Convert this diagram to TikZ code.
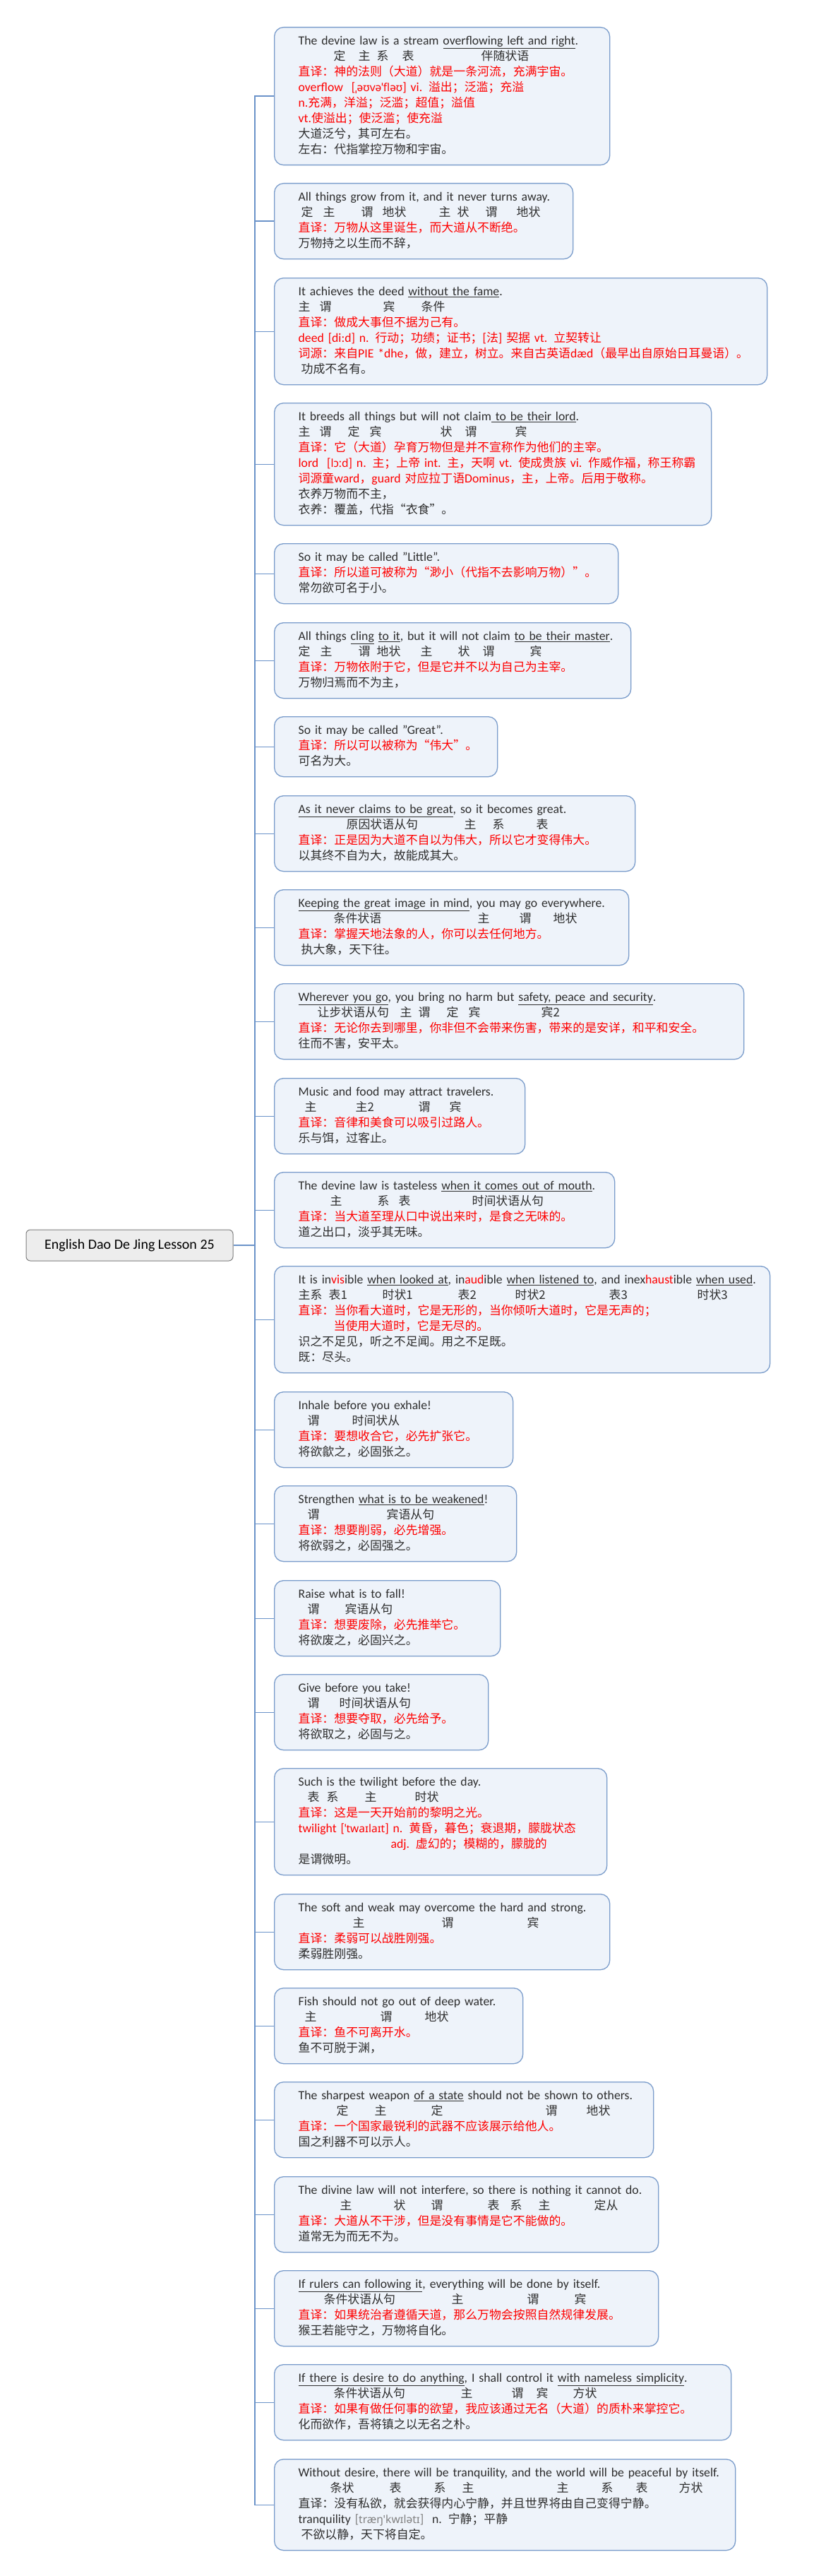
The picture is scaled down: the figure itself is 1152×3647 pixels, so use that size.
\documentclass[tikz,border=0pt]{standalone}
\usepackage{fontspec}
\setmainfont{Carlito}
\newfontfamily\cjkf{Noto Sans CJK SC}
\newfontfamily\ipaf{Noto Sans}
\definecolor{boxfill}{HTML}{EEF3FA}
\definecolor{boxline}{HTML}{7A9CCB}
\definecolor{txt}{HTML}{2E2E2E}
\definecolor{connc}{HTML}{6B93C9}
\definecolor{rootfill}{HTML}{EDEDED}
\definecolor{rootline}{HTML}{7F7F7F}
\newcommand\fs{\fontsize{17.7}{22}\selectfont}
\newcommand\zh[1]{{\cjkf\fontsize{16.9}{22}\selectfont #1}}
\newcommand\ipat[1]{{\ipaf\fontsize{15.5}{22}\selectfont #1}}
\newcommand\rtxt[1]{\textcolor{red}{#1}}
\newcommand\uln[1]{\underline{#1}}
\newcommand\glab[2]{\rlap{\hspace*{#1pt}\zh{#2}}}
\newcommand\rows[1]{\noindent\begin{tabular}{@{}l@{}}#1\end{tabular}}
\tikzset{
  box/.style={draw=boxline, fill=boxfill, line width=1.3pt, rounded corners=13pt,
    anchor=north west, inner xsep=34pt, inner ysep=9.5pt, align=left, font=\fs, text=txt},
  rootbox/.style={draw=rootline, fill=rootfill, line width=1pt, rounded corners=6pt,
    minimum width=293pt, minimum height=44pt, font=\fontsize{20}{24}\selectfont, text=black},
  conn/.style={draw=connc, line width=1.3pt}
}
\begin{document}
\begin{tikzpicture}[x=1pt,y=1pt]
\path[fill=white] (0,0) rectangle (1152,-3647);
\useasboundingbox (0,0) rectangle (1152,-3647);

\node[rootbox] (root) at (183.5,-1763) {English Dao De Jing Lesson 25};
\coordinate (trunk) at (361,-1763);

\node[box, text width=407pt] (b1) at (388,-38) {\rows{%
The devine law is a stream \uln{overflowing left and right}.\\
\glab{50}{定}\glab{85}{主}\glab{111}{系}\glab{147}{表}\glab{259}{伴随状语}\\
\rtxt{\zh{直译：神的法则（大道）就是一条河流，充满宇宙。}}\\
\rtxt{overflow\ \ [\ipat{ˌəʊvəˈfləʊ}] vi. \zh{溢出；泛滥；充溢}}\\
\rtxt{n.\zh{充满，洋溢；泛滥；超值；溢值}}\\
\rtxt{vt.\zh{使溢出；使泛滥；使充溢}}\\
\zh{大道泛兮，其可左右。}\\
\zh{左右：代指掌控万物和宇宙。}}};

\node[box, text width=355pt] (b2) at (388,-259) {\rows{%
All things grow from it, and it never turns away.\\
\glab{4}{定}\glab{35}{主}\glab{89}{谓}\glab{119}{地状}\glab{199}{主}\glab{225}{状}\glab{265}{谓}\glab{309}{地状}\\
\rtxt{\zh{直译：万物从这里诞生，而大道从不断绝。}}\\
\zh{万物持之以生而不辞，}}};

\node[box, text width=630pt] (b3) at (388,-393) {\rows{%
It achieves the deed \uln{without the fame}.\\
\glab{0}{主}\glab{30}{谓}\glab{120}{宾}\glab{174}{条件}\\
\rtxt{\zh{直译：做成大事但不据为己有。}}\\
\rtxt{deed [di:d] n. \zh{行动；功绩；证书；}[\zh{法}] \zh{契据} vt. \zh{立契转让}}\\
\rtxt{\zh{词源：来自}PIE *dhe\zh{，做，建立，树立。来自古英语}dæd\zh{（最早出自原始日耳曼语）。}}\\
\hspace*{4pt}\zh{功成不名有。}}};

\node[box, text width=551pt] (b4) at (388,-570) {\rows{%
It breeds all things but will not claim\uln{ to be their lord}.\\
\glab{0}{主}\glab{30}{谓}\glab{70}{定}\glab{101}{宾}\glab{201}{状}\glab{236}{谓}\glab{307}{宾}\\
\rtxt{\zh{直译：它（大道）孕育万物但是并不宣称作为他们的主宰。}}\\
\rtxt{lord\ \ [\ipat{lɔ:d}] n. \zh{主；上帝} int. \zh{主，天啊} vt. \zh{使成贵族} vi. \zh{作威作福，称王称霸}}\\
\rtxt{\zh{词源童}ward\zh{，}guard \zh{对应拉丁语}Dominus\zh{，主，上帝。后用于敬称。}}\\
\zh{衣养万物而不主，}\\
\zh{衣养：覆盖，代指“衣食”。}}};

\node[box, text width=419pt] (b5) at (388,-769) {\rows{%
So it may be called "Little".\\
\rtxt{\zh{直译：所以道可被称为“渺小（代指不去影响万物）”。}}\\
\zh{常勿欲可名于小。}}};

\node[box, text width=437pt] (b6) at (388,-881) {\rows{%
All things \uln{cling} \uln{to it}, but it will not claim \uln{to be their master}.\\
\glab{0}{定}\glab{31}{主}\glab{85}{谓}\glab{111}{地状}\glab{173}{主}\glab{226}{状}\glab{261}{谓}\glab{328}{宾}\\
\rtxt{\zh{直译：万物依附于它，但是它并不以为自己为主宰。}}\\
\zh{万物归焉而不为主，}}};

\node[box, text width=248pt] (b7) at (388,-1014) {\rows{%
So it may be called "Great".\\
\rtxt{\zh{直译：所以可以被称为“伟大”。}}\\
\zh{可名为大。}}};

\node[box, text width=443pt] (b8) at (388,-1126) {\rows{%
\uln{As it never claims to be great}, so it becomes great.\\
\glab{68}{原因状语从句}\glab{235}{主}\glab{275}{系}\glab{337}{表}\\
\rtxt{\zh{直译：正是因为大道不自以为伟大，所以它才变得伟大。}}\\
\zh{以其终不自为大，故能成其大。}}};

\node[box, text width=434pt] (b9) at (388,-1259) {\rows{%
\uln{Keeping the great image in mind}, you may go everywhere.\\
\glab{50}{条件状语}\glab{254}{主}\glab{313}{谓}\glab{361}{地状}\\
\rtxt{\zh{直译：掌握天地法象的人，你可以去任何地方。}}\\
\hspace*{4pt}\zh{执大象，天下往。}}};

\node[box, text width=597pt] (b10) at (388,-1392) {\rows{%
\uln{Wherever you go}, you bring no harm but \uln{safety, peace and security}.\\
\glab{27}{让步状语从句}\glab{144}{主}\glab{170}{谓}\glab{210}{定}\glab{241}{宾}\glab{344}{宾2}\\
\rtxt{\zh{直译：无论你去到哪里，你非但不会带来伤害，带来的是安详，和平和安全。}}\\
\zh{往而不害，安平太。}}};

\node[box, text width=287pt] (b11) at (388,-1526) {\rows{%
Music and food may attract travelers.\\
\glab{9}{主}\glab{81}{主2}\glab{170}{谓}\glab{214}{宾}\\
\rtxt{\zh{直译：音律和美食可以吸引过路人。}}\\
\zh{乐与饵，过客止。}}};

\node[box, text width=414pt] (b12) at (388,-1659) {\rows{%
The devine law is tasteless \uln{when it comes out of mouth}.\\
\glab{45}{主}\glab{112}{系}\glab{142}{表}\glab{246}{时间状语从句}\\
\rtxt{\zh{直译：当大道至理从口中说出来时，是食之无味的。}}\\
\zh{道之出口，淡乎其无味。}}};

\node[box, text width=634pt] (b13) at (388,-1792) {\rows{%
It is in\rtxt{vis}ible \uln{when looked at}, in\rtxt{aud}ible \uln{when listened to}, and inex\rtxt{haust}ible \uln{when used}.\\
\glab{0}{主系}\glab{43}{表1}\glab{119}{时状1}\glab{226}{表2}\glab{307}{时状2}\glab{440}{表3}\glab{565}{时状3}\\
\rtxt{\zh{直译：当你看大道时，它是无形的，当你倾听大道时，它是无声的；}}\\
\hspace*{50pt}\rtxt{\zh{当使用大道时，它是无尽的。}}\\
\zh{识之不足见，听之不足闻。用之不足既。}\\
\zh{既：尽头。}}};

\node[box, text width=270pt] (b14) at (388,-1970) {\rows{%
Inhale before you exhale!\\
\glab{13}{谓}\glab{76}{时间状从}\\
\rtxt{\zh{直译：要想收合它，必先扩张它。}}\\
\zh{将欲歙之，必固张之。}}};

\node[box, text width=275pt] (b15) at (388,-2103) {\rows{%
Strengthen \uln{what is to be weakened}!\\
\glab{13}{谓}\glab{125}{宾语从句}\\
\rtxt{\zh{直译：想要削弱，必先增强。}}\\
\zh{将欲弱之，必固强之。}}};

\node[box, text width=252pt] (b16) at (388,-2237) {\rows{%
Raise what is to fall!\\
\glab{13}{谓}\glab{66}{宾语从句}\\
\rtxt{\zh{直译：想要废除，必先推举它。}}\\
\zh{将欲废之，必固兴之。}}};

\node[box, text width=235pt] (b17) at (388,-2370) {\rows{%
Give before you take!\\
\glab{13}{谓}\glab{58}{时间状语从句}\\
\rtxt{\zh{直译：想要夺取，必先给予。}}\\
\zh{将欲取之，必固与之。}}};

\node[box, text width=403pt] (b18) at (388,-2503) {\rows{%
Such is the twilight before the day.\\
\glab{13}{表}\glab{40}{系}\glab{94}{主}\glab{165}{时状}\\
\rtxt{\zh{直译：这是一天开始前的黎明之光。}}\\
\rtxt{twilight [\ipat{ˈtwaɪlaɪt}] n. \zh{黄昏，暮色；衰退期，朦胧状态}}\\
\hspace*{131pt}\rtxt{adj. \zh{虚幻的；模糊的，朦胧的}}\\
\zh{是谓微明。}}};

\node[box, text width=407pt] (b19) at (388,-2681) {\rows{%
The soft and weak may overcome the hard and strong.\\
\glab{77}{主}\glab{203}{谓}\glab{324}{宾}\\
\rtxt{\zh{直译：柔弱可以战胜刚强。}}\\
\zh{柔弱胜刚强。}}};

\node[box, text width=284pt] (b20) at (388,-2814) {\rows{%
Fish should not go out of deep water.\\
\glab{9}{主}\glab{116}{谓}\glab{179}{地状}\\
\rtxt{\zh{直译：鱼不可离开水。}}\\
\zh{鱼不可脱于渊，}}};

\node[box, text width=469pt] (b21) at (388,-2947) {\rows{%
The sharpest weapon \uln{of a state} should not be shown to others.\\
\glab{54}{定}\glab{108}{主}\glab{188}{定}\glab{350}{谓}\glab{408}{地状}\\
\rtxt{\zh{直译：一个国家最锐利的武器不应该展示给他人。}}\\
\zh{国之利器不可以示人。}}};

\node[box, text width=476pt] (b22) at (388,-3081) {\rows{%
The divine law will not interfere, so there is nothing it cannot do.\\
\glab{59}{主}\glab{135}{状}\glab{188}{谓}\glab{268}{表}\glab{300}{系}\glab{340}{主}\glab{419}{定从}\\
\rtxt{\zh{直译：大道从不干涉，但是没有事情是它不能做的。}}\\
\zh{道常无为而无不为。}}};

\node[box, text width=476pt] (b23) at (388,-3214) {\rows{%
\uln{If rulers can following it}, everything will be done by itself.\\
\glab{36}{条件状语从句}\glab{217}{主}\glab{324}{谓}\glab{391}{宾}\\
\rtxt{\zh{直译：如果统治者遵循天道，那么万物会按照自然规律发展。}}\\
\zh{猴王若能守之，万物将自化。}}};

\node[box, text width=579pt] (b24) at (388,-3347) {\rows{%
\uln{If there is desire to do anything}, I shall control it \uln{with nameless simplicity}.\\
\glab{50}{条件状语从句}\glab{230}{主}\glab{302}{谓}\glab{337}{宾}\glab{389}{方状}\\
\rtxt{\zh{直译：如果有做任何事的欲望，我应该通过无名（大道）的质朴来掌控它。}}\\
\zh{化而欲作，吾将镇之以无名之朴。}}};

\node[box, text width=585pt] (b25) at (388,-3481) {\rows{%
Without desire, there will be tranquility, and the world will be peaceful by itself.\\
\glab{45}{条状}\glab{129}{表}\glab{192}{系}\glab{232}{主}\glab{366}{主}\glab{429}{系}\glab{478}{表}\glab{539}{方状}\\
\zh{直译：没有私欲，就会获得内心宁静，并且世界将由自己变得宁静。}\\
tranquility \textcolor{gray}{[\ipat{træŋ'kwɪlətɪ}]}\ \ n. \zh{宁静；平静}\\
\hspace*{4pt}\zh{不欲以静，天下将自定。}}};

\draw[conn] (root.east) -- (trunk);
\foreach \i in {1,...,25} {\draw[conn] (trunk) |- (b\i.west);}
\end{tikzpicture}
\end{document}
